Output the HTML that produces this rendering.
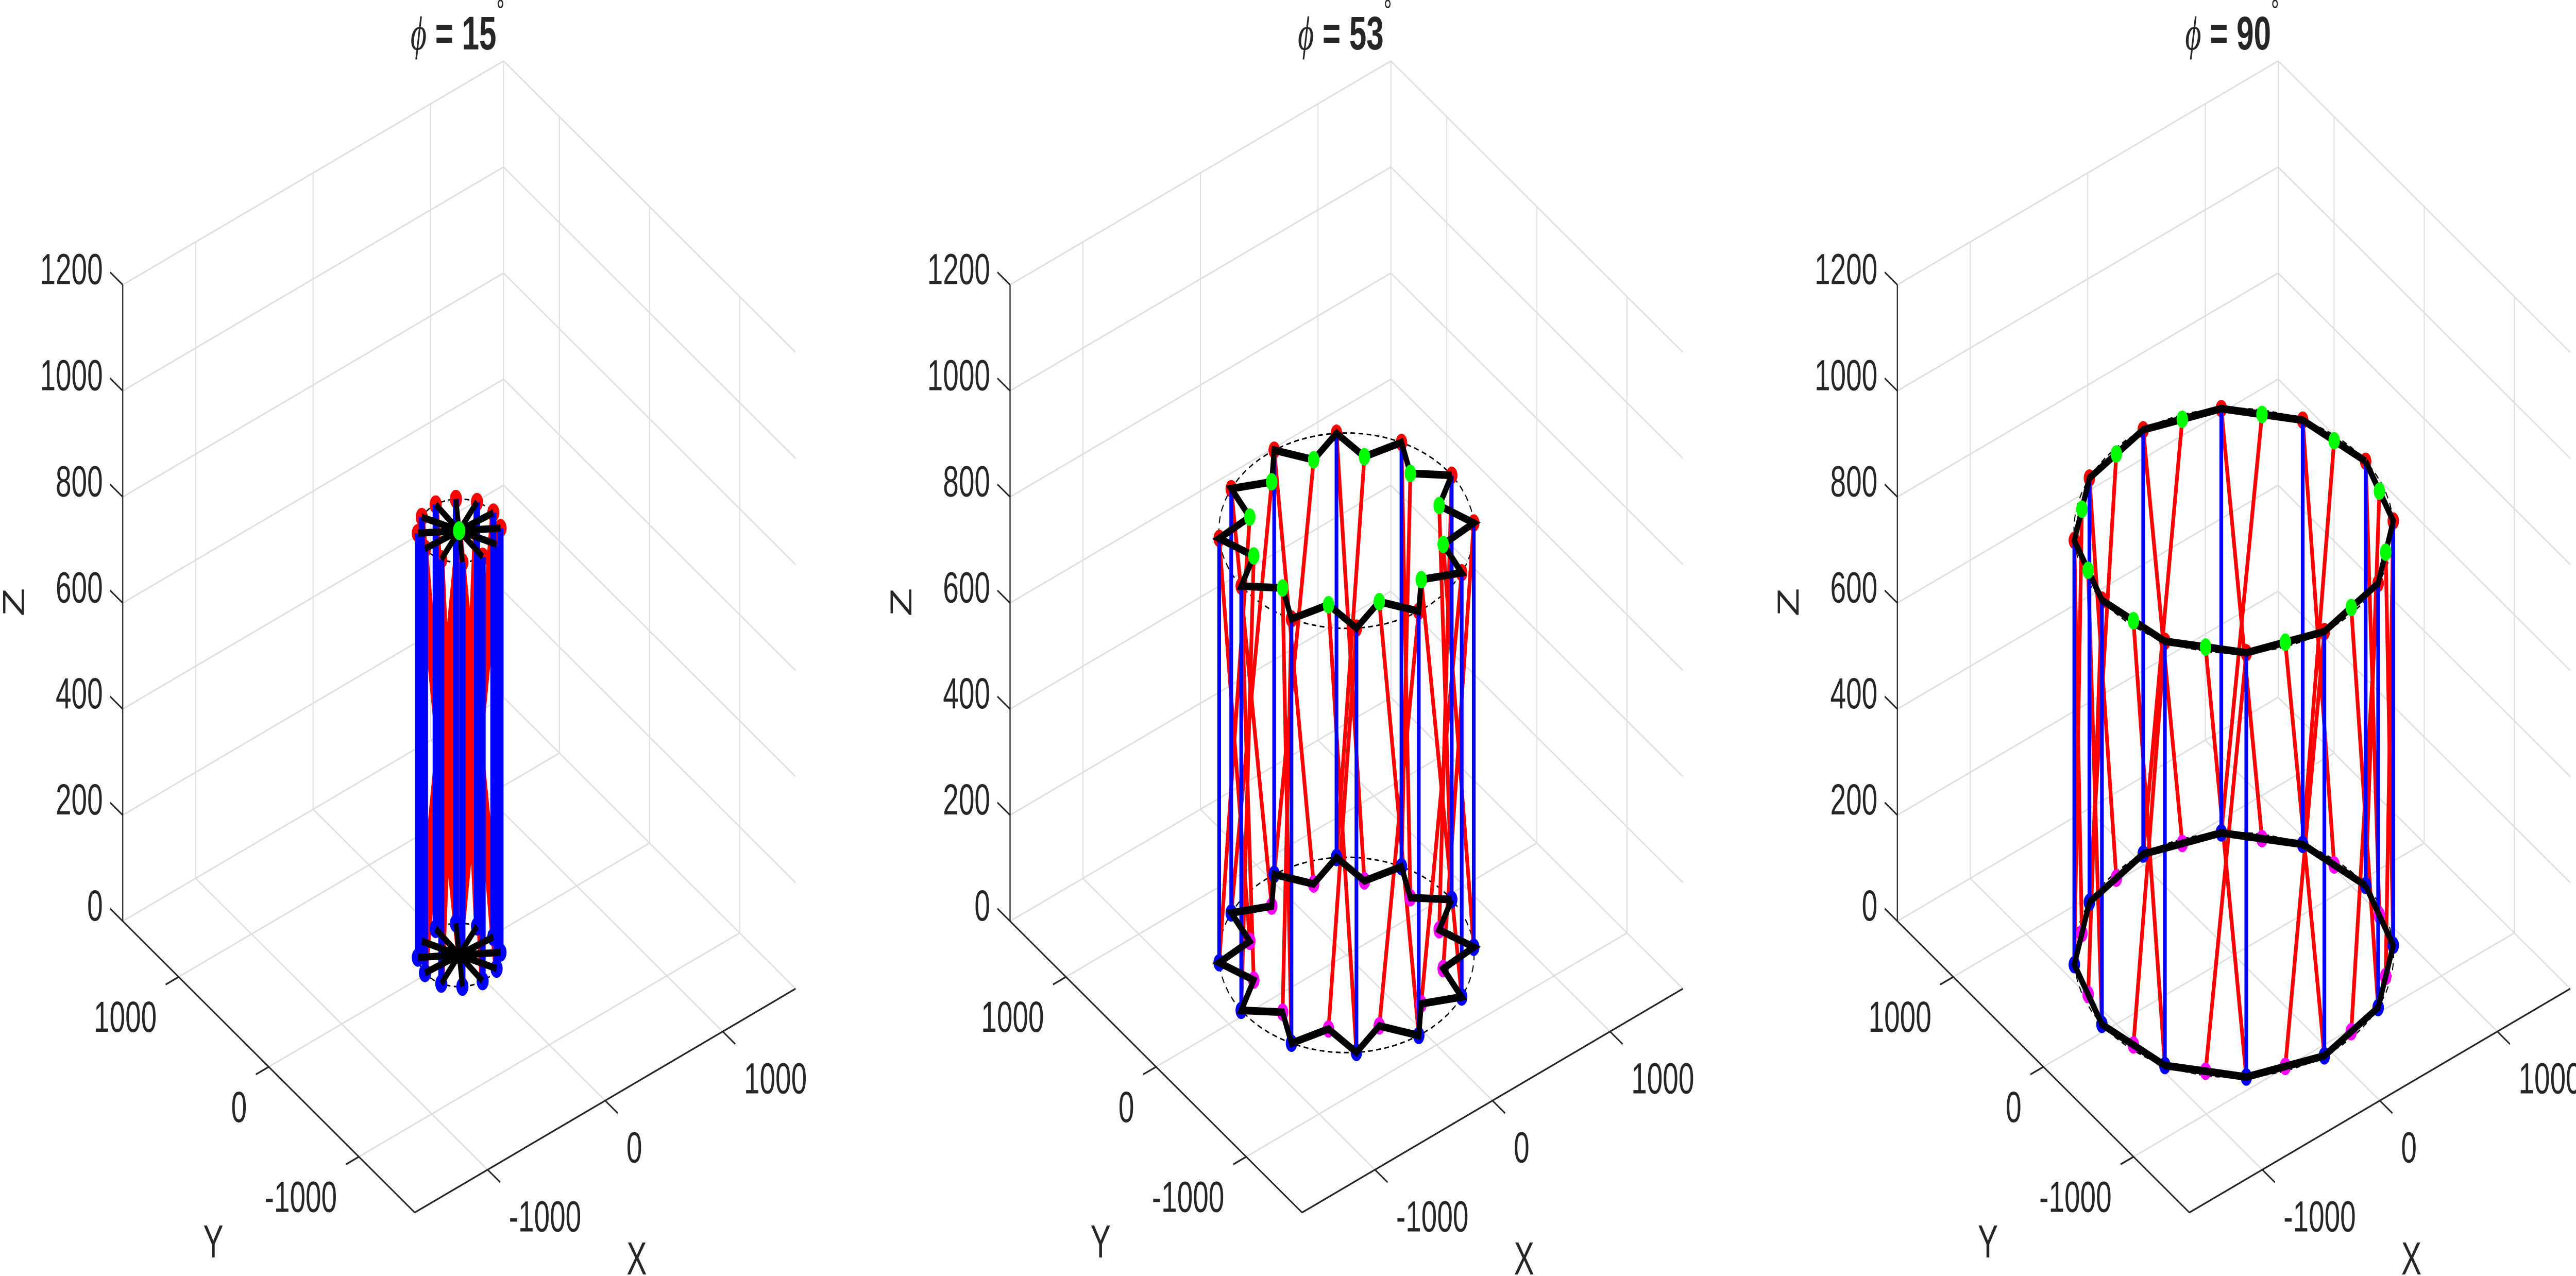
<!DOCTYPE html>
<html><head><meta charset="utf-8"><style>
html,body{margin:0;padding:0;background:#fff;width:100%;height:100%;overflow:hidden;}
svg{display:block;width:100vw;height:100vh;}
text{font-family:"Liberation Sans",Arial,sans-serif;fill:#262626;}
</style></head>
<body>
<svg id="chart" xmlns="http://www.w3.org/2000/svg" viewBox="0 0 7646 2477" preserveAspectRatio="none"></svg>
<script>
// ---- data ----
const phiValues = [15, 53, 90];
const topRadius = [280, 862, 1080];
const innerRadius = [0, 664, 1043];
const topHeight = [800, 800, 800];
const nodeCount = 12;
const angleOffsetDeg = -3;
const zTicks = [0, 200, 400, 600, 800, 1000, 1200];
const xTicks = [-1000, 0, 1000];
const yTicks = [-1000, 0, 1000];
const zTickLabels = ["0","200","400","600","800","1000","1200"];
const xTickLabels = ["-1000","0","1000"];
const yTickLabels = ["-1000","0","1000"];

// ---- axes geometry ----
const xmin=-1620,xmax=1620,ymin=-1620,ymax=1620,zmin=0,zmax=1200;
const F={x:1231.1,y:2353.8}, R={x:2361.4,y:1919.3}, A={x:364.3,y:1788.2}, AT={x:364.3,y:552.9};
const panelDX=2633.7;
const NS="http://www.w3.org/2000/svg";
const svg=document.getElementById('chart');

function P(p,X,Y,Z){
  const fx=(X-xmin)/(xmax-xmin), fy=(Y-ymin)/(ymax-ymin), fz=(Z-zmin)/(zmax-zmin);
  return {x:F.x+p*panelDX+fx*(R.x-F.x)+fy*(A.x-F.x)+fz*(AT.x-A.x),
          y:F.y+fx*(R.y-F.y)+fy*(A.y-F.y)+fz*(AT.y-A.y)};
}
function mk(tag,attrs,parent){const e=document.createElementNS(NS,tag);for(const k in attrs)e.setAttribute(k,attrs[k]);parent.appendChild(e);return e;}
function seg(g,a,b,stroke,w,extra){const e=mk('line',{x1:a.x,y1:a.y,x2:b.x,y2:b.y,stroke:stroke,'stroke-width':w,'stroke-linecap':extra||'butt'},g);return e;}

for(let p=0;p<3;p++){
  const g=mk('g',{},svg);
  
  
  const grid=mk('g',{},g);
  
  
  const gc='#dedede', gw=3;
  xTicks.forEach(t=>{seg(grid,P(p,t,ymin,0),P(p,t,ymax,0),gc,gw);seg(grid,P(p,t,ymax,0),P(p,t,ymax,zmax),gc,gw);});
  yTicks.forEach(t=>{seg(grid,P(p,xmin,t,0),P(p,xmax,t,0),gc,gw);seg(grid,P(p,xmax,t,0),P(p,xmax,t,zmax),gc,gw);});
  zTicks.forEach(t=>{seg(grid,P(p,xmin,ymax,t),P(p,xmax,ymax,t),gc,gw);seg(grid,P(p,xmax,ymax,t),P(p,xmax,ymin,t),gc,gw);});
  seg(grid,P(p,xmax,ymax,0),P(p,xmax,ymax,zmax),gc,gw);
  const ax=mk('g',{},g);
  
  
  const ac='#262626';
  seg(ax,P(p,xmin,ymax,0),P(p,xmin,ymax,zmax),ac,3.5);
  seg(ax,P(p,xmin,ymin,0),P(p,xmin,ymax,0),ac,3.5);
  seg(ax,P(p,xmin,ymin,0),P(p,xmax,ymin,0),ac,3.5);
  zTicks.forEach((t,i)=>{
    const a=P(p,xmin,ymax,t), b=P(p,xmin,ymax+140,t);
    seg(ax,a,b,ac,3.5);
    const tx=mk('text',{x:a.x-59,y:a.y-29,'font-size':84,'text-anchor':'end','dominant-baseline':'central'},ax);
    
    
    tx.textContent=zTickLabels[i];
  });
  yTicks.forEach((t,i)=>{
    const a=P(p,xmin,t,0), b=P(p,xmin-110,t,0);
    seg(ax,a,b,ac,3.5);
    const tx=mk('text',{x:a.x-65,y:a.y+79,'font-size':84,'text-anchor':'end','dominant-baseline':'central'},ax);
    
    
    tx.textContent=yTickLabels[i];
  });
  xTicks.forEach((t,i)=>{
    const a=P(p,t,ymin,0), b=P(p,t,ymin-140,0);
    seg(ax,a,b,ac,3.5);
    const tx=mk('text',{x:a.x+63,y:a.y+92,'font-size':84,'text-anchor':'start','dominant-baseline':'central'},ax);
    
    
    tx.textContent=xTickLabels[i];
  });
  const ox=p*panelDX;
  const zl=mk('text',{x:41+ox,y:1169,'font-size':90,'text-anchor':'middle','dominant-baseline':'central',transform:'rotate(-90 '+(41+ox)+' 1169)'},ax);
  
  
  zl.textContent='Z';
  const yl=mk('text',{x:633+ox,y:2411,'font-size':90,'text-anchor':'middle','dominant-baseline':'central'},ax);
  
  
  yl.textContent='Y';
  const xl=mk('text',{x:1890+ox,y:2444,'font-size':90,'text-anchor':'middle','dominant-baseline':'central'},ax);
  
  
  xl.textContent='X';
  const ti=mk('text',{x:1358+ox,y:65,'font-size':92,'font-weight':'bold','text-anchor':'middle','dominant-baseline':'central'},g);
  
  
  ti.innerHTML='<tspan font-family="Liberation Serif" font-style="italic" font-weight="normal">ϕ</tspan> = '+phiValues[p]+'<tspan dy="-45" font-size="60" font-weight="normal">°</tspan>';

  const Rr=topRadius[p], rho=innerRadius[p], H=topHeight[p];
  const lw=p===0?18:11, bw=p===0?14:15, mr=p===0?18:17;
  const outer=(k,z)=>{const a=(30*k+angleOffsetDeg)*Math.PI/180;return P(p,Rr*Math.cos(a),Rr*Math.sin(a),z);};
  const inner=(k,z)=>{const a=(30*k+angleOffsetDeg-15)*Math.PI/180;return P(p,rho*Math.cos(a),rho*Math.sin(a),z);};
  const st=mk('g',{},g);
  
  
  [0,H].forEach(z=>{
    let d='';
    for(let s=0;s<=72;s++){const a=s*5*Math.PI/180;const q=P(p,Rr*Math.cos(a),Rr*Math.sin(a),z);d+=(s?'L':'M')+q.x.toFixed(1)+' '+q.y.toFixed(1);}
    const c=mk('path',{d:d,fill:'none',stroke:'#000','stroke-width':3,'stroke-dasharray':'14 10'},st);
    
    
  });
  for(let k=0;k<nodeCount;k++){
    const l1=seg(st,outer(k,H),inner(k,0),'#ff0000',lw);
    
    
    const l2=seg(st,inner(k,H),outer(k,0),'#ff0000',lw);
    
    
  }
  for(let k=0;k<nodeCount;k++){
    const a=outer(k,H);
    const c1=mk('circle',{cx:a.x,cy:a.y,r:mr,fill:'#ff0000'},st);
    
    
    const b=outer(k,0);
    const c2=mk('circle',{cx:b.x,cy:b.y,r:mr,fill:'#0000ff'},st);
    
    
    const m=inner(k,0);
    const c3=mk('circle',{cx:m.x,cy:m.y,r:mr,fill:'#ff00ff'},st);
    
    
  }
  for(let k=0;k<nodeCount;k++){
    const l=seg(st,outer(k,H),outer(k,0),'#0000ff',lw);
    
    
  }
  [0,H].forEach(z=>{
    let d='';
    for(let k=0;k<=nodeCount;k++){
      const o=outer(k%nodeCount,z), i=inner((k+1)%nodeCount,z);
      d+=(k?'L':'M')+o.x.toFixed(1)+' '+o.y.toFixed(1);
      if(k<nodeCount) d+='L'+i.x.toFixed(1)+' '+i.y.toFixed(1);
    }
    const zz=mk('path',{d:d,fill:'none',stroke:'#000','stroke-width':bw,'stroke-linejoin':'miter'},st);
    
    
  });
  for(let k=0;k<nodeCount;k++){
    const a=inner(k,H);
    const c=mk('circle',{cx:a.x,cy:a.y,r:mr,fill:'#00ff00'},st);
    
    
  }
}
</script>
</body></html>
